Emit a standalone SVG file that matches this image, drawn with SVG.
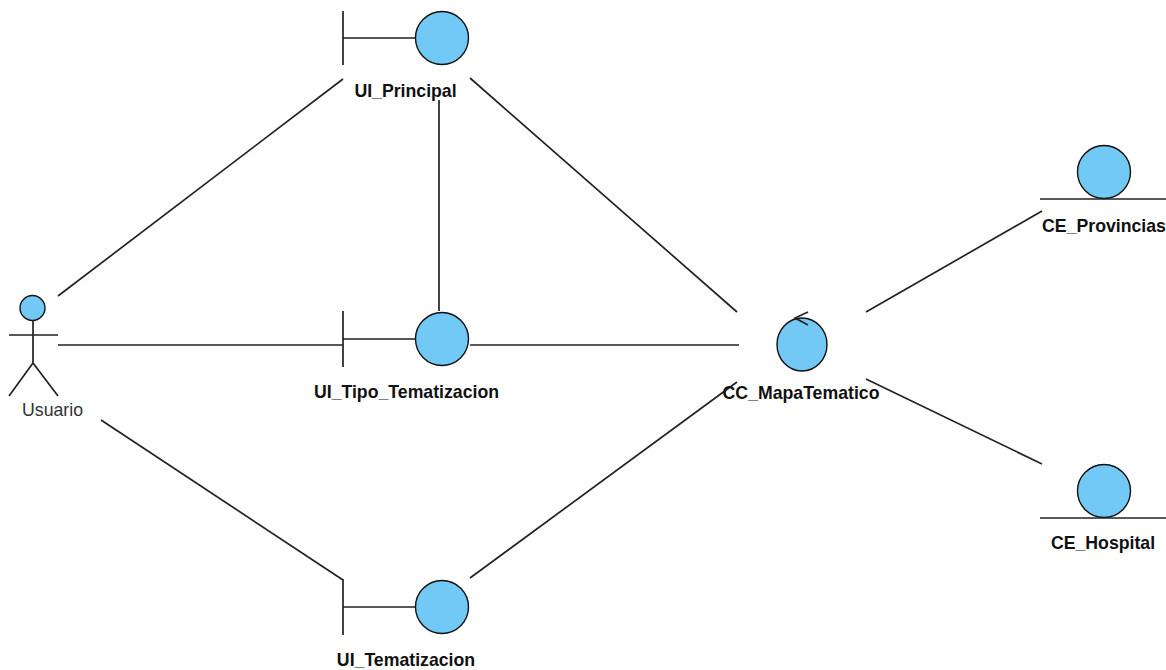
<svg xmlns="http://www.w3.org/2000/svg" width="1166" height="670" viewBox="0 0 1166 670">
<style>
.l{stroke:#222;stroke-width:1.7;fill:none}
.c{fill:#73c9f5;stroke:#111;stroke-width:1.4}
.t{font-family:"Liberation Sans",Arial,sans-serif;font-size:17.700px;font-weight:bold;text-anchor:middle;fill:#111}
</style>
<rect width="1166" height="670" fill="#fff"/>
<g id="connectors" class="l">
<path d="M58 296L343 79"/><path d="M58 345H343"/><path d="M101 420L343 580"/>
<path d="M439 100V311"/><path d="M470 78L737 312"/><path d="M470 345H739"/><path d="M470 578L737 382"/>
<path d="M866 312L1042 211"/><path d="M866 379L1042 464"/>
</g>
<g id="UI_Principal"><path class="l" d="M343 11V65M343 38H416"/><circle class="c" cx="442" cy="38" r="26.500"/><text class="t" x="405.500" y="97">UI_Principal</text></g>
<g id="UI_Tipo_Tematizacion"><path class="l" d="M343 311V367M343 339H416"/><circle class="c" cx="442" cy="339" r="26.500"/><text class="t" x="406.500" y="398">UI_Tipo_Tematizacion</text></g>
<g id="UI_Tematizacion"><path class="l" d="M343 579V635M343 607H416"/><circle class="c" cx="442" cy="607" r="26.500"/><text class="t" x="406" y="666">UI_Tematizacion</text></g>
<g id="CC_MapaTematico"><ellipse class="c" cx="802" cy="344.500" rx="25" ry="26.500"/><path class="l" d="M808 312L795 318L808 325"/><text class="t" x="801" y="399">CC_MapaTematico</text></g>
<g id="CE_Provincias"><circle class="c" cx="1104" cy="172" r="26.500"/><path class="l" d="M1040 199H1166"/><text class="t" x="1104" y="232">CE_Provincias</text></g>
<g id="CE_Hospital"><circle class="c" cx="1104" cy="491" r="26.500"/><path class="l" d="M1040 518H1166"/><text class="t" x="1103" y="549">CE_Hospital</text></g>
<g id="Usuario"><circle class="c" cx="32.500" cy="308" r="12.500"/><path class="l" d="M33 320V363M9 335H58M33 363L9 396M33 363L58 396"/><text x="52.500" y="416" font-family="Liberation Sans,Arial,sans-serif" font-size="17.700" text-anchor="middle" fill="#333">Usuario</text></g>
</svg>
